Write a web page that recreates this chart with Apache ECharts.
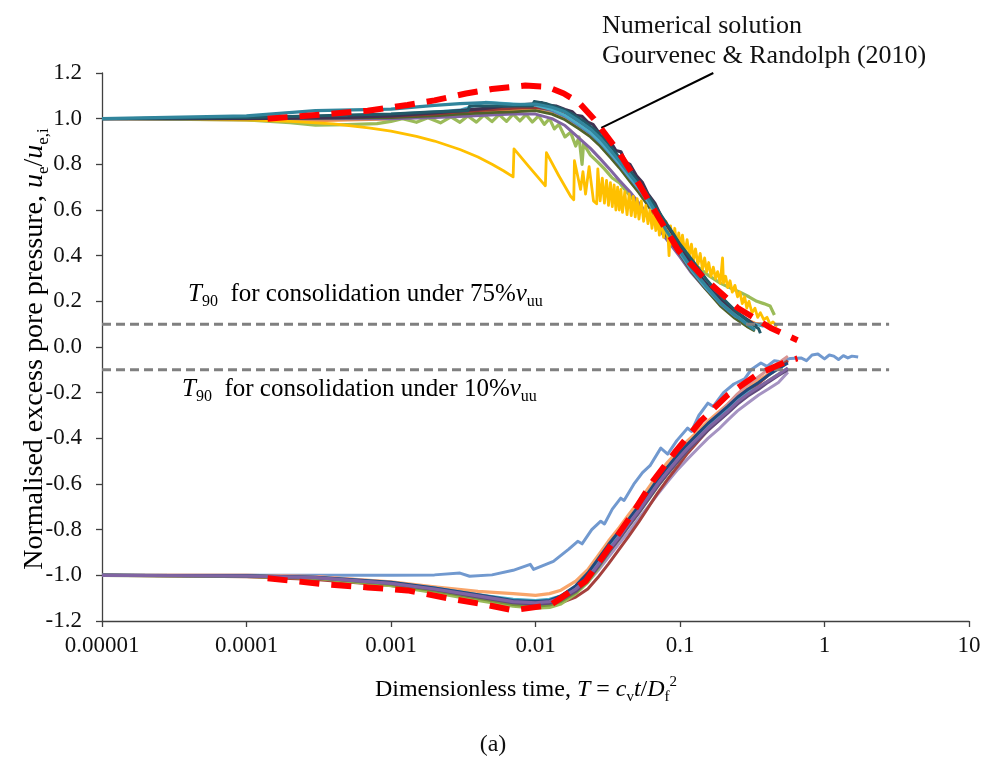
<!DOCTYPE html>
<html><head><meta charset="utf-8">
<script src="https://cdn.jsdelivr.net/npm/echarts@6/dist/echarts.min.js"></script>
<style>html,body{margin:0;padding:0;background:#fff}#c{width:985px;height:764px}</style>
</head><body><div id="c"></div>
<script>
// ---------- tick labels ----------
const xTickLabels = ['0.00001','0.0001','0.001','0.01','0.1','1','10'];
const yMin = -1.2, yMax = 1.2, yStep = 0.2;

// ---------- upper group (positive pore pressure), shared time grid ----------
const upperT = [1e-5,1e-4,3e-4,1e-3,2e-3,3e-3,4.5e-3,7e-3,0.01,0.013,0.016,0.02,0.024,0.028,0.033,0.038,0.045,0.052,0.06,0.07,0.08,0.1,0.12,0.15,0.19,0.24,0.29,0.33,0.38,0.43];
const uTeal     = [1.0,1.012,1.035,1.042,1.058,1.066,1.07,1.062,1.064,1.05,1.03,0.99,0.955,0.915,0.862,0.815,0.755,0.705,0.648,0.578,0.512,0.42,0.345,0.27,0.195,0.14,0.1,0.075,null,null];
const uPurple   = [1.0,1.0,1.0,1.0,1.005,1.01,1.015,1.02,1.02,1.0,0.97,0.915,0.87,0.825,0.775,0.73,0.68,0.63,0.58,0.525,0.475,0.395,0.325,0.255,0.19,0.14,0.11,0.1,0.095,null];
const uOrange   = [1.0,0.994,0.99,0.998,1.012,1.02,1.03,1.04,1.04,1.028,1.005,0.965,0.925,0.885,0.835,0.79,0.735,0.685,0.63,0.565,0.505,0.42,0.35,0.275,0.205,0.15,0.12,0.105,0.1,0.1];
const uAqua     = [1.0,1.004,1.01,1.02,1.03,1.038,1.072,1.065,1.058,1.04,1.015,0.975,0.94,0.9,0.85,0.805,0.745,0.695,0.64,0.57,0.505,0.415,0.34,0.265,0.195,0.14,0.11,0.1,0.09,null];
const uDarkRed  = [1.0,1.002,1.006,1.01,1.02,1.03,1.038,1.045,1.05,1.04,1.018,0.98,0.945,0.91,0.86,0.815,0.755,0.705,0.65,0.58,0.515,0.425,0.35,0.275,0.2,0.145,0.115,0.1,0.095,null];
const uDarkGreen= [1.0,1.001,1.003,1.005,1.012,1.02,1.025,1.03,1.035,1.02,0.995,0.955,0.92,0.88,0.83,0.785,0.725,0.675,0.62,0.555,0.49,0.405,0.33,0.255,0.18,0.125,0.09,0.07,null,null];
const uBlue     = [1.0,1.004,1.008,1.015,1.025,1.035,1.042,1.05,1.05,1.035,1.01,0.97,0.935,0.895,0.845,0.8,0.74,0.69,0.635,0.565,0.5,0.41,0.335,0.26,0.19,0.135,0.11,0.1,0.1,null];

// upper curves with their own time points
const uNavyT = [1e-5,1e-4,5e-4,1e-3,2e-3,3e-3,4.5e-3,6e-3,8e-3,0.01,0.011,0.012,0.014,0.016,0.018,0.019,0.021,0.023,0.025,0.027,0.029,0.031,0.033,0.036,0.039,0.042,0.045,0.05,0.055,0.06,0.067,0.075,0.085,0.1,0.12,0.14,0.17,0.2,0.25,0.3,0.34];
const uNavyY = [1.0,1.0,1.005,1.012,1.025,1.035,1.045,1.055,1.06,1.065,1.07,1.058,1.055,1.04,1.03,1.015,1.01,0.985,0.975,0.945,0.94,0.905,0.9,0.86,0.855,0.81,0.8,0.75,0.72,0.67,0.63,0.565,0.515,0.445,0.365,0.305,0.24,0.2,0.15,0.115,0.09];
const uGreenT = [1e-5,1e-4,2e-4,3e-4,5e-4,8e-4,1e-3,1.2e-3,1.5e-3,1.8e-3,2.2e-3,2.6e-3,3e-3,3.4e-3,3.9e-3,4.4e-3,5e-3,5.6e-3,6.3e-3,7e-3,7.8e-3,8.6e-3,9.5e-3,0.0105,0.0115,0.0125,0.0135,0.0145,0.016,0.0175,0.019,0.02,0.021,0.0215,0.024,0.027,0.03,0.034,0.038,0.044,0.05,0.057,0.065,0.075,0.085,0.1,0.12,0.14,0.16,0.19,0.22,0.26,0.3,0.34,0.38,0.42,0.45];
const uGreenY = [1.0,0.995,0.982,0.972,0.974,0.978,0.988,1.0,0.984,1.004,0.982,1.008,0.984,1.012,0.985,1.016,0.987,1.018,0.988,1.02,0.99,1.018,0.985,1.012,0.975,1.0,0.955,0.975,0.92,0.94,0.88,0.92,0.8,0.89,0.84,0.81,0.78,0.74,0.72,0.67,0.63,0.59,0.55,0.51,0.47,0.42,0.37,0.34,0.31,0.28,0.26,0.24,0.22,0.2,0.19,0.18,0.14];
const uTealDarkT = [1e-5,1e-4,1e-3,2e-3,3.4e-3,3.5e-3,6e-3,9.5e-3,0.0098,0.012,0.015,0.018,0.022,0.026,0.03,0.035,0.04,0.048,0.058,0.07,0.085,0.1,0.125,0.155,0.2,0.25,0.3,0.35,0.36];
const uTealDarkY = [1.0,1.005,1.02,1.03,1.035,1.055,1.055,1.055,1.075,1.065,1.045,1.02,0.985,0.95,0.91,0.86,0.81,0.75,0.68,0.6,0.52,0.45,0.37,0.29,0.21,0.15,0.11,0.08,0.06];
const uYellowT = [3.4e-5,1e-4,2e-4,4e-4,7e-4,1e-3,1.5e-3,2e-3,3e-3,4e-3,5e-3,6e-3,7e-3,7.1e-3,9e-3,0.0117,0.0119,0.0145,0.0175,0.0184,0.0186,0.0205,0.0213,0.0222,0.0235,0.0252,0.0265,
  0.027,0.028,0.029,0.03,0.031,0.032,0.033,0.034,0.035,0.036,0.037,0.038,0.039,0.04,0.0415,0.043,0.0445,0.046,0.0475,0.049,0.0505,0.052,0.054,0.056,0.058,0.06,0.062,0.064,0.066,0.068,0.07,0.072,0.074,0.077,0.08,0.083,0.084,0.086,0.089,0.092,0.095,0.098,0.101,0.104,0.108,0.112,0.116,0.12,0.124,0.128,0.133,0.138,0.143,0.148,0.153,0.158,0.164,0.17,0.176,0.182,0.19,0.197,0.2,0.207,0.214,0.222,0.23,0.24,0.25,0.26,0.27,0.28,0.29,0.3,0.315,0.33,0.345,0.36,0.38,0.4,0.42,0.44,0.47];
const uYellowY = [1.0,0.995,0.988,0.977,0.96,0.945,0.922,0.902,0.865,0.832,0.8,0.772,0.745,0.868,0.79,0.706,0.851,0.75,0.66,0.645,0.816,0.69,0.768,0.67,0.79,0.64,0.627,
  0.78,0.64,0.74,0.63,0.73,0.62,0.72,0.615,0.71,0.6,0.7,0.6,0.69,0.59,0.68,0.58,0.67,0.575,0.66,0.57,0.65,0.56,0.64,0.55,0.62,0.54,0.6,0.52,0.59,0.51,0.57,0.49,0.56,0.48,0.55,0.46,0.4,0.53,0.45,0.52,0.44,0.5,0.43,0.49,0.41,0.47,0.4,0.45,0.38,0.43,0.36,0.41,0.34,0.39,0.33,0.37,0.31,0.35,0.3,0.33,0.28,0.39,0.28,0.31,0.26,0.29,0.24,0.27,0.22,0.24,0.19,0.22,0.17,0.2,0.15,0.17,0.13,0.15,0.12,0.13,0.1,0.11,0.09];

// ---------- lower group (negative pore pressure), shared time grid ----------
const lowerT = [1e-5,1e-4,3e-4,1e-3,2e-3,4e-3,7e-3,0.01,0.0125,0.015,0.019,0.023,0.027,0.032,0.038,0.044,0.052,0.06,0.07,0.082,0.097,0.113,0.135,0.156,0.185,0.214,0.25,0.295,0.35,0.406,0.48,0.558];
const lOrange    = [-1.0,-1.0,-1.005,-1.028,-1.05,-1.07,-1.08,-1.088,-1.08,-1.065,-1.025,-0.975,-0.915,-0.85,-0.79,-0.735,-0.675,-0.62,-0.56,-0.505,-0.455,-0.41,-0.365,-0.325,-0.285,-0.25,-0.21,-0.175,-0.145,-0.12,-0.09,-0.06];
const lAqua      = [-1.0,-1.002,-1.008,-1.032,-1.055,-1.085,-1.105,-1.11,-1.105,-1.09,-1.05,-1.0,-0.945,-0.88,-0.82,-0.765,-0.705,-0.65,-0.59,-0.535,-0.48,-0.435,-0.385,-0.345,-0.305,-0.27,-0.23,-0.2,-0.175,null,null,null];
const lGreen     = [-1.0,-1.004,-1.012,-1.045,-1.075,-1.11,-1.135,-1.143,-1.14,-1.125,-1.08,-1.03,-0.97,-0.9,-0.84,-0.785,-0.725,-0.67,-0.61,-0.555,-0.5,-0.45,-0.4,-0.36,-0.32,-0.285,-0.245,-0.21,-0.18,-0.15,-0.12,-0.095];
const lPurple    = [-1.0,-1.003,-1.01,-1.035,-1.06,-1.09,-1.115,-1.12,-1.115,-1.1,-1.06,-1.013,-0.955,-0.89,-0.83,-0.775,-0.715,-0.66,-0.6,-0.545,-0.49,-0.443,-0.395,-0.355,-0.315,-0.281,-0.24,-0.206,-0.175,-0.149,-0.12,-0.092];
const lLilac     = [-1.0,-1.003,-1.01,-1.035,-1.06,-1.09,-1.11,-1.115,-1.11,-1.1,-1.07,-1.03,-0.98,-0.92,-0.86,-0.81,-0.75,-0.7,-0.645,-0.59,-0.535,-0.49,-0.44,-0.4,-0.36,-0.32,-0.28,-0.245,-0.21,-0.185,-0.155,-0.11];
const lDarkRed   = [-1.0,-1.006,-1.018,-1.045,-1.07,-1.1,-1.125,-1.13,-1.13,-1.12,-1.095,-1.06,-1.01,-0.95,-0.885,-0.83,-0.765,-0.705,-0.64,-0.58,-0.52,-0.465,-0.41,-0.365,-0.32,-0.28,-0.235,-0.195,-0.16,-0.125,-0.09,-0.06];
const lNavy      = [-1.0,-1.002,-1.008,-1.03,-1.055,-1.085,-1.11,-1.115,-1.11,-1.09,-1.045,-0.99,-0.93,-0.865,-0.805,-0.755,-0.695,-0.64,-0.58,-0.525,-0.47,-0.425,-0.375,-0.335,-0.295,-0.26,-0.22,-0.185,-0.155,-0.125,-0.095,-0.07];
const lDarkPurple= [-1.0,-1.003,-1.01,-1.036,-1.062,-1.095,-1.12,-1.127,-1.122,-1.108,-1.07,-1.022,-0.965,-0.9,-0.84,-0.785,-0.725,-0.67,-0.61,-0.555,-0.5,-0.452,-0.405,-0.365,-0.325,-0.29,-0.25,-0.215,-0.185,-0.155,-0.125,-0.1];
const lRose      = [-1.0,-1.0,-1.005,-1.03,-1.055,-1.085,-1.11,-1.118,-1.112,-1.095,-1.05,-1.0,-0.94,-0.875,-0.815,-0.76,-0.7,-0.645,-0.585,-0.53,-0.475,-0.43,-0.38,-0.335,-0.29,-0.25,-0.205,-0.165,-0.13,-0.1,-0.07,-0.04];
const lGreenDark = [-1.0,-1.004,-1.012,-1.04,-1.068,-1.1,-1.128,-1.135,-1.13,-1.115,-1.075,-1.025,-0.965,-0.9,-0.835,-0.78,-0.72,-0.665,-0.605,-0.55,-0.495,-0.447,-0.398,-0.36,-0.32,-0.285,-0.245,-0.21,-0.18,-0.15,null,null];

const lBlueT = [1e-5,1e-4,1e-3,2e-3,3e-3,3.05e-3,3.5e-3,5e-3,7e-3,9.2e-3,9.7e-3,0.0133,0.017,0.0196,0.021,0.0245,0.0283,0.03,0.034,0.0389,0.041,0.0479,0.055,0.062,0.0736,0.0822,0.095,0.113,0.12,0.135,0.156,0.17,0.2,0.236,0.28,0.31,0.363,0.4,0.45,0.5,0.58,0.687,0.75,0.82,0.9,1.0,1.08,1.16,1.25,1.35,1.45,1.55,1.71];
const lBlueY = [-1.0,-1.0,-1.0,-0.998,-0.99,-0.986,-1.004,-0.998,-0.978,-0.952,-0.974,-0.939,-0.885,-0.851,-0.862,-0.8,-0.763,-0.775,-0.71,-0.662,-0.672,-0.601,-0.55,-0.52,-0.443,-0.469,-0.41,-0.355,-0.37,-0.3,-0.246,-0.26,-0.2,-0.162,-0.14,-0.1,-0.07,-0.085,-0.06,-0.065,-0.05,-0.048,-0.06,-0.035,-0.031,-0.052,-0.035,-0.04,-0.055,-0.038,-0.048,-0.04,-0.044];

// ---------- numerical solution (Gourvenec & Randolph 2010) ----------
const numUpperT = [1.4e-4,3.6e-4,6.9e-4,1.3e-3,2e-3,3.3e-3,5e-3,8.5e-3,0.012,0.0157,0.02,0.0253,0.0371,0.0518,0.0713,0.098,0.146,0.251,0.425,0.65];
const numUpperY = [1.0,1.02,1.035,1.06,1.08,1.11,1.13,1.145,1.14,1.11,1.07,1.0,0.86,0.715,0.566,0.421,0.303,0.171,0.083,0.03];
const numLowerT = [1.4e-4,3.6e-4,6.9e-4,1.3e-3,2.46e-3,4.37e-3,7e-3,0.0127,0.0222,0.0321,0.0456,0.0648,0.0935,0.139,0.214,0.346,0.558,0.65];
const numLowerY = [-1.013,-1.04,-1.053,-1.066,-1.1,-1.127,-1.153,-1.13,-1.026,-0.882,-0.741,-0.588,-0.456,-0.325,-0.21,-0.118,-0.061,-0.05];

// ---------- T90 reference lines ----------
const t90Levels = [0.1, -0.1];
const t90Span = [1e-5, 2.8];

function pairs(t, y) { const out = []; for (let i = 0; i < t.length; i++) { if (y[i] !== null) out.push([t[i], y[i]]); } return out; }
function meas(name, data, color, w) {
  return { name, type: 'line', data, showSymbol: false, symbol: 'none', smooth: false,
    lineStyle: { color, width: w || 2.8, join: 'round' }, silent: true, animation: false };
}

const series = [
  meas('uOrange', pairs(upperT, uOrange), '#F79646'),
  meas('uGreen', pairs(uGreenT, uGreenY), '#9BBB59', 3.2),
  meas('uPurple', pairs(upperT, uPurple), '#8064A2', 3),
  meas('uDarkGreen', pairs(upperT, uDarkGreen), '#4F6228'),
  meas('uBlue', pairs(upperT, uBlue), '#4F81BD'),
  meas('uDarkRed', pairs(upperT, uDarkRed), '#943634'),
  meas('uAqua', pairs(upperT, uAqua), '#4BACC6'),
  meas('uYellow', pairs(uYellowT, uYellowY), '#FFC000', 2.8),
  meas('uNavy', pairs(uNavyT, uNavyY), '#3F3151', 3.2),
  meas('uTealDark', pairs(uTealDarkT, uTealDarkY), '#215967', 3),
  meas('uTeal', pairs(upperT, uTeal), '#31859C', 3.2),

  meas('lBlue', pairs(lBlueT, lBlueY), '#7199CF', 3),
  meas('lOrange', pairs(lowerT, lOrange), '#F9A56A', 3.2),
  meas('lLilac', pairs(lowerT, lLilac), '#A593C2', 3),
  meas('lDarkRed', pairs(lowerT, lDarkRed), '#A5403D', 3),
  meas('lRose', pairs(lowerT, lRose), '#D99694', 3),
  meas('lGreen', pairs(lowerT, lGreen), '#9BBB59', 3.4),
  meas('lGreenDark', pairs(lowerT, lGreenDark), '#77933C', 3),
  meas('lAqua', pairs(lowerT, lAqua), '#4BACC6', 3),
  meas('lNavy', pairs(lowerT, lNavy), '#1F497D', 3),
  meas('lDarkPurple', pairs(lowerT, lDarkPurple), '#604A7B', 3),
  meas('lPurple', pairs(lowerT, lPurple), '#8064A2', 3.2),
];
t90Levels.forEach((lv, i) => series.push({ name: 't90_' + i, type: 'line', symbol: 'none', silent: true, animation: false,
  data: [[t90Span[0], lv], [t90Span[1], lv]], lineStyle: { color: '#808080', width: 3, type: [9, 5] } }));
[[numUpperT, numUpperY], [numLowerT, numLowerY]].forEach((d, i) => series.push({ name: 'num_' + i, type: 'line', symbol: 'none', silent: true, animation: false, z: 5,
  data: pairs(d[0], d[1]), lineStyle: { color: '#FF0000', width: 6, type: [20, 12], cap: 'butt' } }));

const FONT = 'Liberation Serif';
const chart = echarts.init(document.getElementById('c'), null, { renderer: 'canvas' });
chart.setOption({
  backgroundColor: '#fff',
  animation: false,
  grid: { left: 102, right: 16, top: 73, bottom: 143, containLabel: false },
  xAxis: { type: 'log', logBase: 10, min: 1e-5, max: 10,
    axisLine: { show: true, onZero: false, lineStyle: { color: '#404040', width: 1.3 } },
    axisTick: { show: true, inside: false, length: 6, lineStyle: { color: '#404040', width: 1.3 } },
    minorTick: { show: false }, splitLine: { show: false },
    axisLabel: { margin: 13, fontFamily: FONT, fontSize: 23, color: '#111',
      formatter: v => xTickLabels[Math.round(Math.log10(v)) + 5] } },
  yAxis: { type: 'value', min: yMin, max: yMax, interval: yStep,
    axisLine: { show: true, onZero: false, lineStyle: { color: '#404040', width: 1.3 } },
    axisTick: { show: true, inside: false, length: 6, lineStyle: { color: '#404040', width: 1.3 } },
    splitLine: { show: false },
    axisLabel: { margin: 20, fontFamily: FONT, fontSize: 23, color: '#111',
      formatter: v => (Math.abs(v) < 1e-9 ? 0 : v).toFixed(1) } },
  series
});

function richSet(size) {
  const m = { fontFamily: FONT, fontSize: size, color: '#111', lineHeight: Math.round(size * 1.25) };
  return {
    m: m,
    i: Object.assign({}, m, { fontStyle: 'italic' }),
    s: { fontFamily: FONT, fontSize: Math.round(size * 0.62), color: '#111', lineHeight: Math.round(size * 0.62), verticalAlign: 'bottom' },
    p: { fontFamily: FONT, fontSize: Math.round(size * 0.62), color: '#111', lineHeight: Math.round(size * 0.8), verticalAlign: 'top' }
  };
}

const p1 = chart.convertToPixel({ gridIndex: 0 }, [0.17, 1.2]);
const p2 = chart.convertToPixel({ gridIndex: 0 }, [0.0285, 0.96]);

chart.setOption({ graphic: [
  { type: 'line', shape: { x1: p1[0], y1: p1[1], x2: p2[0], y2: p2[1] }, style: { stroke: '#000', lineWidth: 2 }, silent: true },
  { type: 'text', left: 602, top: 11, style: { text: 'Numerical solution\nGourvenec & Randolph (2010)', font: '26px "Liberation Serif"', fill: '#111', lineHeight: 30 }, silent: true },
  { type: 'text', x: 188, y: 294, style: { text: '{i|T}{s|90}{m|  for consolidation under 75%}{i|v}{s|uu}', rich: richSet(25), verticalAlign: 'middle', align: 'left' }, silent: true },
  { type: 'text', x: 182, y: 389, style: { text: '{i|T}{s|90}{m|  for consolidation under 10%}{i|v}{s|uu}', rich: richSet(25), verticalAlign: 'middle', align: 'left' }, silent: true },
  { type: 'text', x: 526, y: 690, style: { text: '{m|Dimensionless time, }{i|T}{m| = }{i|c}{s|v}{i|t}{m|/}{i|D}{s|f}{p|2}', rich: richSet(24), align: 'center', verticalAlign: 'middle' }, silent: true },
  { type: 'text', x: 35, y: 349, rotation: Math.PI / 2, style: { text: '{m|Normalised excess pore pressure, }{i|u}{s|e}{m|/}{i|u}{s|e,i}', rich: richSet(28), align: 'center', verticalAlign: 'middle' }, silent: true },
  { type: 'text', x: 493, y: 745, style: { text: '(a)', font: '24px "Liberation Serif"', fill: '#111', align: 'center', verticalAlign: 'middle' }, silent: true }
]});
</script></body></html>
